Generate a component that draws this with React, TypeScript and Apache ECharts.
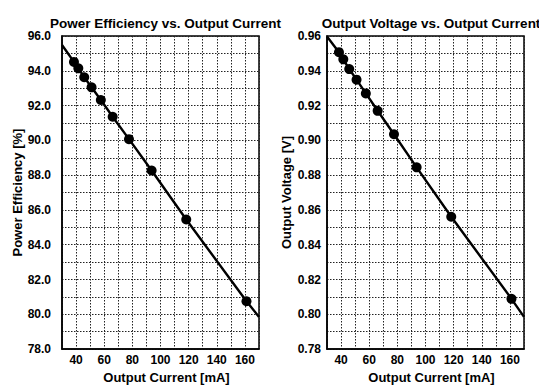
import React, { useEffect, useRef } from 'react';
import * as echarts from 'echarts';

// Output current [mA] for each measured point (shared by both plots)
const currentMA = [38.5, 41.6, 45.8, 51.0, 57.6, 66.0, 77.6, 93.7, 118.3, 161.1];
// Power efficiency [%]
const efficiencyPct = [94.51, 94.14, 93.63, 93.05, 92.32, 91.36, 90.07, 88.27, 85.45, 80.75];
// Output voltage [V]
const outputVoltageV = [0.9507, 0.9466, 0.941, 0.9349, 0.927, 0.917, 0.9035, 0.8845, 0.8561, 0.8089];
// Trend line extension to the axis limits
const fitCurrentEnds = [30, 170];
const efficiencyFitEnds = [95.48, 79.85];
const voltageFitEnds = [0.9597, 0.7985];

const titles = ['Power Efficiency vs. Output Current', 'Output Voltage vs. Output Current'];
const yNames = ['Power Efficiency [%]', 'Output Voltage [V]'];
const xName = 'Output Current [mA]';

const FONT = "'Liberation Sans', Arial, Helvetica, sans-serif";

export default function App() {
  const ref = useRef<HTMLDivElement>(null);
  useEffect(() => {
    if (!ref.current) return;
    const chart = echarts.init(ref.current, undefined, { renderer: 'svg' });
    const pts = (ys: number[]) => currentMA.map((x, i) => [x, ys[i]]);
    const lineData = (ys: number[], ends: number[]) => [
      [fitCurrentEnds[0], ends[0]],
      ...pts(ys),
      [fitCurrentEnds[1], ends[1]],
    ];
    const grids = [
      { left: 62, top: 36, width: 197, height: 321 },
      { left: 327, top: 36, width: 197, height: 321 },
    ];
    const labelStyle = { color: '#000', fontFamily: FONT, fontWeight: 'bold' as const, fontSize: 12 };
    const nameStyle = { ...labelStyle, fontSize: 13 };
    const titleStyle = { ...labelStyle, fontSize: 13.5 };
    const split = { show: true, lineStyle: { color: '#222', width: 1, type: [1.5, 1.5] as number[], opacity: 1 } };
    const xAxis = [0, 1].map((i) => ({
      type: 'value' as const,
      gridIndex: i,
      min: 30,
      max: 170,
      interval: 10,
      name: xName,
      nameLocation: 'middle' as const,
      nameGap: 19,
      nameTextStyle: { ...nameStyle, padding: [0, 0, 0, 12] },
      axisLine: { show: true, lineStyle: { color: '#000', width: 1.5 } },
      axisTick: { show: false },
      axisLabel: {
        ...labelStyle,
        margin: 5,
        formatter: (v: number) => (Math.round(v) % 20 === 0 ? String(Math.round(v)) : ''),
      },
      splitLine: split,
      z: 2,
    }));
    const yAxis = [
      {
        type: 'value' as const,
        gridIndex: 0,
        min: 78,
        max: 96,
        interval: 1,
        name: yNames[0],
        nameLocation: 'middle' as const,
        nameGap: 38,
        nameTextStyle: nameStyle,
        axisLine: { show: true, lineStyle: { color: '#000', width: 1.5 } },
        axisTick: { show: false },
        axisLabel: {
          ...labelStyle,
          margin: 11,
          formatter: (v: number) => (Math.round(v) % 2 === 0 ? v.toFixed(1) : ''),
        },
        splitLine: split,
        z: 2,
      },
      {
        type: 'value' as const,
        gridIndex: 1,
        min: 0.78,
        max: 0.96,
        interval: 0.01,
        name: yNames[1],
        nameLocation: 'middle' as const,
        nameGap: 34,
        nameTextStyle: nameStyle,
        axisLine: { show: true, lineStyle: { color: '#000', width: 1.5 } },
        axisTick: { show: false },
        axisLabel: {
          ...labelStyle,
          margin: 6,
          formatter: (v: number) => (Math.round(v * 100) % 2 === 0 ? v.toFixed(2) : ''),
        },
        splitLine: split,
        z: 2,
      },
    ];
    chart.setOption({
      animation: false,
      backgroundColor: '#fff',
      title: [
        { text: titles[0], left: 160.5, top: 11, textAlign: 'center', textStyle: titleStyle },
        { text: titles[1], left: 426, top: 11, textAlign: 'center', textStyle: titleStyle },
      ],
      grid: grids.map((g) => ({ ...g, show: true, borderColor: '#000', borderWidth: 1.5, backgroundColor: 'transparent', z: 0 })),
      xAxis,
      yAxis,
      series: [
        {
          type: 'line',
          xAxisIndex: 0,
          yAxisIndex: 0,
          data: lineData(efficiencyPct, efficiencyFitEnds),
          showSymbol: false,
          lineStyle: { color: '#000', width: 2.4 },
          z: 3,
        },
        {
          type: 'scatter',
          xAxisIndex: 0,
          yAxisIndex: 0,
          data: pts(efficiencyPct),
          symbol: 'circle',
          symbolSize: 10,
          itemStyle: { color: '#000', opacity: 1 },
          z: 4,
        },
        {
          type: 'line',
          xAxisIndex: 1,
          yAxisIndex: 1,
          data: lineData(outputVoltageV, voltageFitEnds),
          showSymbol: false,
          lineStyle: { color: '#000', width: 2.4 },
          z: 3,
        },
        {
          type: 'scatter',
          xAxisIndex: 1,
          yAxisIndex: 1,
          data: pts(outputVoltageV),
          symbol: 'circle',
          symbolSize: 10,
          itemStyle: { color: '#000', opacity: 1 },
          z: 4,
        },
      ],
    });
    return () => chart.dispose();
  }, []);
  return (
    <div
      ref={ref}
      style={{ position: 'absolute', left: 0, top: 0, width: 539, height: 389, background: '#fff' }}
    />
  );
}
